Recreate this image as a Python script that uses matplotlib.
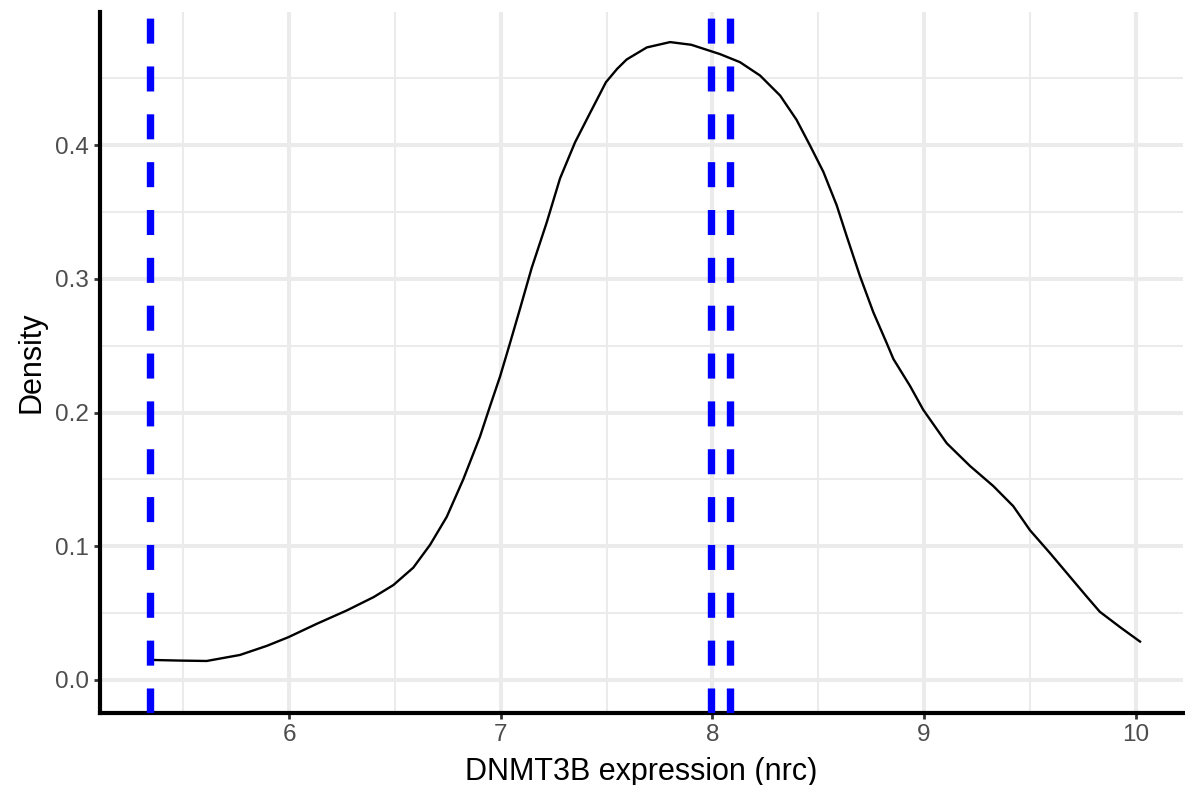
import matplotlib.pyplot as plt
from matplotlib.ticker import MultipleLocator, FormatStrFormatter

# density curve
dens_x = [5.343, 5.485, 5.611, 5.768, 5.895, 5.997, 6.131, 6.273, 6.40, 6.493,
          6.587, 6.666, 6.745, 6.823, 6.902, 6.95, 6.997, 7.044, 7.09, 7.146,
          7.217, 7.28, 7.351, 7.422, 7.497, 7.55, 7.595, 7.69, 7.80, 7.90, 8.036,
          8.13, 8.225, 8.32, 8.397, 8.46, 8.524, 8.587, 8.634, 8.697, 8.76,
          8.823, 8.855, 8.933, 8.996, 9.107, 9.217, 9.327, 9.421, 9.50, 9.594,
          9.69, 9.77, 9.83, 9.93, 10.02]
dens_y = [0.0150, 0.0145, 0.0142, 0.0187, 0.0255, 0.032, 0.042, 0.052, 0.062,
          0.071, 0.084, 0.101, 0.122, 0.150, 0.182, 0.205, 0.227, 0.252, 0.277,
          0.308, 0.342, 0.375, 0.402, 0.424, 0.447, 0.457, 0.464, 0.473, 0.477,
          0.475, 0.468, 0.462, 0.452, 0.437, 0.419, 0.400, 0.380, 0.355, 0.332,
          0.302, 0.275, 0.252, 0.240, 0.220, 0.202, 0.177, 0.160, 0.145, 0.130,
          0.112, 0.095, 0.077, 0.062, 0.051, 0.039, 0.0287]

# dashed reference lines
vline_x = [5.343, 7.995, 8.085]

x_label = "DNMT3B expression (nrc)"
y_label = "Density"

plt.rcParams["font.family"] = ["Liberation Sans", "DejaVu Sans"]

fig = plt.figure(figsize=(11.85, 7.85), dpi=100)
ax = fig.add_axes([100 / 1185, 72 / 785, 1083 / 1185, 701 / 785])

ax.plot(dens_x, dens_y, color="black", lw=1.7, zorder=3,
        solid_joinstyle="round")
for xv in vline_x:
    ax.axvline(xv, color="#0000FF", lw=5.3, linestyle=(0, (3.4, 3.1)),
               dash_capstyle="butt", zorder=4)

ax.set_xlim(5.107, 10.223)
ax.set_ylim(-0.0247, 0.4995)

ax.xaxis.set_major_locator(MultipleLocator(1))
ax.xaxis.set_minor_locator(MultipleLocator(0.5))
ax.yaxis.set_major_locator(MultipleLocator(0.1))
ax.yaxis.set_minor_locator(MultipleLocator(0.05))
ax.yaxis.set_major_formatter(FormatStrFormatter("%.1f"))

ax.grid(which="major", color="#EBEBEB", lw=2.9, zorder=0)
ax.grid(which="minor", color="#EBEBEB", lw=1.5, zorder=0)
ax.set_axisbelow(True)

for side in ["top", "right"]:
    ax.spines[side].set_visible(False)
for side in ["left", "bottom"]:
    ax.spines[side].set_linewidth(3.0)
    ax.spines[side].set_color("black")

ax.tick_params(which="major", length=4, width=2, color="#333333",
               labelsize=17.5, labelcolor="#4D4D4D", pad=4)
ax.tick_params(which="minor", length=0)

ax.set_xlabel(x_label, fontsize=22, labelpad=8)
ax.set_ylabel(y_label, fontsize=22, labelpad=6)

fig.savefig("out.png", dpi=100)
